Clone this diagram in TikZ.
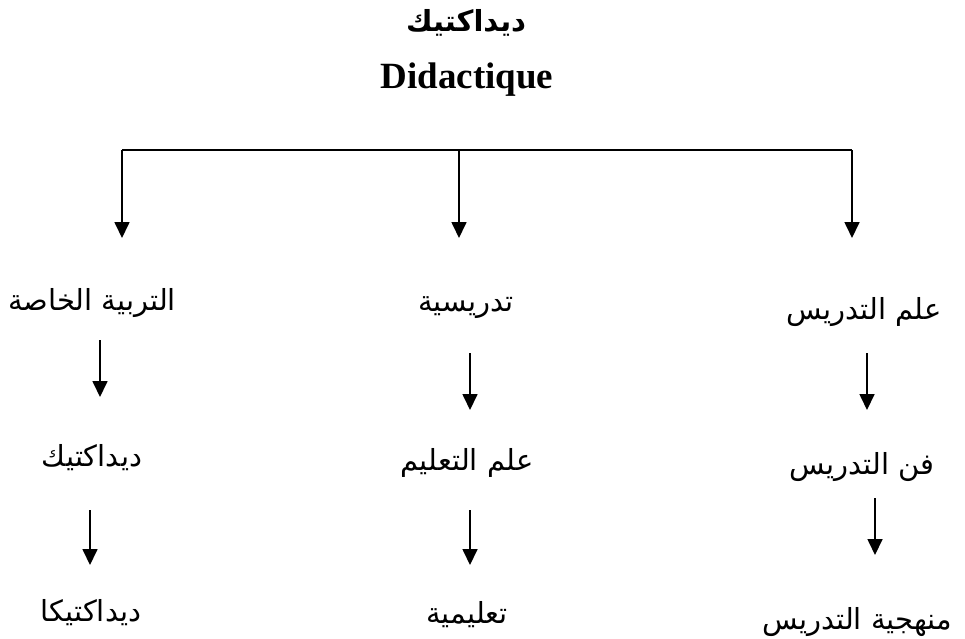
\documentclass[tikz,border=0pt]{standalone}
\usepackage{fontspec}
\setmainfont{Liberation Serif}
\newfontfamily\arabicfont[Script=Arabic]{DejaVu Sans}
\TeXXeTstate=1
\usetikzlibrary{arrows.meta}
\tikzset{
  conn/.style={line width=1.7pt, draw=black},
  arr/.style={conn, -{Triangle[width=15pt,length=16pt]}},
  artext/.style={inner sep=0pt, font=\arabicfont\fontsize{29}{34}\selectfont},
  artitle/.style={inner sep=0pt, font=\arabicfont\bfseries\fontsize{29}{34}\selectfont},
  lattitle/.style={inner sep=0pt, font=\bfseries\fontsize{37}{44}\selectfont}
}
\begin{document}
\begin{tikzpicture}[x=1pt,y=-1pt]
\useasboundingbox (0,0) rectangle (965,638);
% titles
\node[artitle] (t1) at (466,23) {\beginR ديداكتيك\endR};
\node[lattitle] (t2) at (467,80) {Didactique};
% tree connector
\coordinate (hl) at (122,150);
\coordinate (hm) at (459,150);
\coordinate (hr) at (852,150);
\coordinate (el) at (122,238);
\coordinate (em) at (459,238);
\coordinate (er) at (852,238);
\draw[conn] (hl) -- (hr);
\draw[arr] (hl) -- (el);
\draw[arr] (hm) -- (em);
\draw[arr] (hr) -- (er);
% column 1
\node[artext] (a1) at (92,303) {\beginR التربية الخاصة\endR};
\node[artext] (a2) at (92,458) {\beginR ديداكتيك\endR};
\node[artext] (a3) at (91,613) {\beginR ديداكتيكا\endR};
% column 2
\node[artext] (b1) at (466,308) {\beginR تدريسية\endR};
\node[artext] (b2) at (467,463) {\beginR علم التعليم\endR};
\node[artext] (b3) at (467,615) {\beginR تعليمية\endR};
% column 3
\node[artext] (c1) at (864,312) {\beginR علم التدريس\endR};
\node[artext] (c2) at (862,467) {\beginR فن التدريس\endR};
\node[artext] (c3) at (857,622) {\beginR منهجية التدريس\endR};
% vertical arrows
\coordinate (p1s) at (100,340); \coordinate (p1e) at (100,397);
\coordinate (p2s) at (90,510);  \coordinate (p2e) at (90,565);
\coordinate (q1s) at (470,353); \coordinate (q1e) at (470,410);
\coordinate (q2s) at (470,510); \coordinate (q2e) at (470,565);
\coordinate (r1s) at (867,353); \coordinate (r1e) at (867,410);
\coordinate (r2s) at (875,498); \coordinate (r2e) at (875,555);
\draw[arr] (p1s) -- (p1e);
\draw[arr] (p2s) -- (p2e);
\draw[arr] (q1s) -- (q1e);
\draw[arr] (q2s) -- (q2e);
\draw[arr] (r1s) -- (r1e);
\draw[arr] (r2s) -- (r2e);
\end{tikzpicture}
\end{document}
